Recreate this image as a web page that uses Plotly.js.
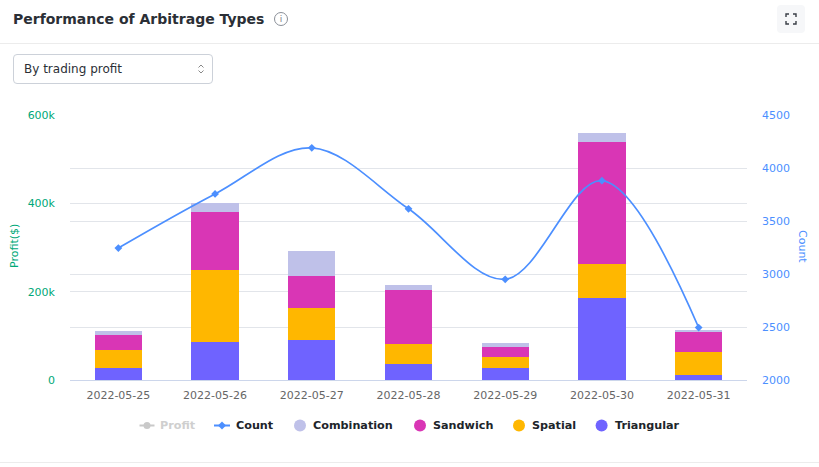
<!DOCTYPE html>
<html><head><meta charset="utf-8">
<script src="https://cdn.plot.ly/plotly-3.0.0.min.js"></script>
<style>
html,body{margin:0;padding:0;background:#fff;width:819px;height:467px;overflow:hidden;font-family:"DejaVu Sans",sans-serif}
#chart{position:absolute;left:0;top:0;width:819px;height:467px}
.title{position:absolute;left:13px;top:11px;font-size:14px;font-weight:bold;color:#2b2f36}
.info{position:absolute;left:274px;top:12px;width:12px;height:12px;border:1px solid #8a8f98;border-radius:50%;font-size:9px;line-height:12px;text-align:center;color:#7c818a}
.rule{position:absolute;left:0;width:819px;height:1px;background:#ececec}
.btn{position:absolute;left:777px;top:5px;width:28px;height:28px;background:#f6f7f9;border-radius:4px;color:#333}
.sel{position:absolute;left:13px;top:54px;width:198px;height:28px;border:1px solid #ccd1d9;border-radius:4px;font-size:12px;line-height:28px;color:#2b2f36;text-indent:10px;background:#fff}
.sel svg{position:absolute;right:7px;top:9px}
</style></head><body>
<div id="chart"></div>
<div class="title">Performance of Arbitrage Types</div>
<div class="info">i</div>
<div class="rule" style="top:43px"></div>
<div class="rule" style="top:462px"></div>
<div class="btn"><svg width="28" height="28" viewBox="0 0 28 28" fill="none" stroke="#3a3f47" stroke-width="1.4"><path d="M9 12V9h3M16 9h3v3M19 16v3h-3M12 19H9v-3"/></svg></div>
<div class="sel">By trading profit<svg width="8" height="10" viewBox="0 0 8 10" fill="none" stroke="#888" stroke-width="1"><path d="M1.5 3.500L4 1l2.500 2.500M1.500 6.500L4 9l2.500-2.500"/></svg></div>
<script>
const dates=["2022-05-25","2022-05-26","2022-05-27","2022-05-28","2022-05-29","2022-05-30","2022-05-31"];
const triangular=[27000,87000,90000,36000,27000,185000,12000];
const spatial=[41000,163000,72000,45000,25000,77000,51000];
const sandwich=[33000,130000,73000,123000,23000,278000,45000];
const combination=[9000,21000,58000,10000,8000,20000,6000];
const count=[3245,3755,4190,3615,2950,3880,2495];
const profitTicks=[0,200000,400000,600000];
const profitLabels=["0","200k","400k","600k"];
const countTicks=[2000,2500,3000,3500,4000,4500];
const C={tri:"#6f63ff",spa:"#ffb700",san:"#d936b5",com:"#bfc1e9",cnt:"#4c8fff",pro:"#c9c9c9"};
const PL=70,PR=747,PT=115,PB=380;
const px=v=>(v-PL)/(PR-PL), py=v=>(PB-v)/(PB-PT);
function bar(name,y,color){return {type:"bar",name:name,x:dates,y:y,marker:{color:color,line:{width:0}},width:.49,yaxis:"y",hoverinfo:"x+y+name"};}
const traces=[
 bar("Triangular",triangular,C.tri),bar("Spatial",spatial,C.spa),bar("Sandwich",sandwich,C.san),bar("Combination",combination,C.com),
 {type:"scatter",mode:"lines+markers",name:"Count",x:dates,y:count,yaxis:"y2",line:{color:C.cnt,width:1.7,shape:"spline",smoothing:1},marker:{color:C.cnt,size:6,symbol:"diamond"}}
];
const LY=425.5;
function label(text,x,color){return {xref:"paper",yref:"paper",x:px(x),y:py(LY),xanchor:"left",yanchor:"middle",showarrow:false,text:text,font:{family:"DejaVu Sans",size:11.2,weight:"bold",color:color}};}
function dot(cx,color,r){return {type:"circle",xref:"paper",yref:"paper",x0:px(cx-r),x1:px(cx+r),y0:py(LY+r),y1:py(LY-r),fillcolor:color,line:{width:0}};}
function dash(a,b,color){return {type:"line",xref:"paper",yref:"paper",x0:px(a),x1:px(b),y0:py(LY),y1:py(LY),line:{color:color,width:2}};}
const dm=(cx,color,r)=>({type:"path",xref:"paper",yref:"paper",path:`M ${px(cx-r)} ${py(LY)} L ${px(cx)} ${py(LY-r)} L ${px(cx+r)} ${py(LY)} L ${px(cx)} ${py(LY+r)} Z`,fillcolor:color,line:{width:0}});
const ink="#20242a";
const tf={family:"DejaVu Sans",size:11};
const axisTitle=(text,x,angle,color)=>({xref:"paper",yref:"paper",x:px(x),y:py(246),xanchor:"center",yanchor:"middle",showarrow:false,textangle:angle,text:text,font:{...tf,color:color}});
const layout={
 width:819,height:467,paper_bgcolor:"rgba(0,0,0,0)",plot_bgcolor:"rgba(0,0,0,0)",barmode:"stack",
 margin:{l:PL,r:819-PR,t:PT,b:467-PB},showlegend:false,hovermode:"x",
 xaxis:{type:"category",tickfont:{...tf,color:"#666"},showgrid:false,showline:true,linecolor:"#ccd6eb",linewidth:1,ticks:"",ticklabelstandoff:5,zeroline:false,automargin:false,fixedrange:true},
 yaxis:{range:[0,600000],tickvals:profitTicks,ticktext:profitLabels,tickfont:{...tf,color:"#00a878"},gridcolor:"#e2e5ea",gridwidth:1,zeroline:false,showline:false,ticks:"",ticklabelstandoff:14,automargin:false,fixedrange:true},
 yaxis2:{overlaying:"y",side:"right",range:[2000,4500],tickvals:countTicks,tickfont:{...tf,color:"#4c8fff"},gridcolor:"#e2e5ea",gridwidth:1,showgrid:true,zeroline:false,showline:false,ticks:"",ticklabelstandoff:14,automargin:false,fixedrange:true},
 shapes:[dash(139.5,154.5,C.pro),dot(147,C.pro,3.5),dash(214,230,C.cnt),dm(222,C.cnt,4),dot(300,C.com,6),dot(420,C.san,6),dot(519,C.spa,6),dot(601.6,C.tri,6)],
 annotations:[axisTitle("Profit($)",14,-90,"#00a878"),axisTitle("Count",803,90,"#4c8fff"),
  label("Profit",158,"#cfcfcf"),label("Count",233.5,ink),label("Combination",311,ink),label("Sandwich",431,ink),label("Spatial",530,ink),label("Triangular",612.5,ink)]
};
Plotly.newPlot("chart",traces,layout,{displayModeBar:false,responsive:false});
</script></body></html>
